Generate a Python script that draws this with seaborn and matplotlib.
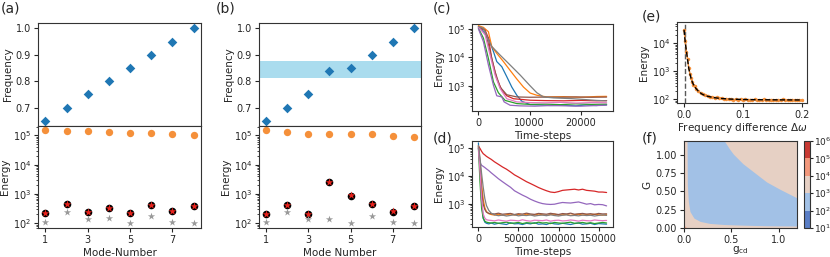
import numpy as np
import pandas as pd
import matplotlib
matplotlib.use('Agg')
import matplotlib.pyplot as plt
import seaborn as sns
from matplotlib.colors import ListedColormap, BoundaryNorm
from matplotlib.cm import ScalarMappable

# ---------------- data ----------------
modes = [1, 2, 3, 4, 5, 6, 7, 8]
mode_ticks = [1, 3, 5, 7]

freq_a = [0.65, 0.70, 0.75, 0.80, 0.85, 0.90, 0.95, 1.00]
freq_b = [0.65, 0.70, 0.75, 0.84, 0.85, 0.90, 0.95, 1.00]
band_b = [0.812, 0.876]

init_a = [1.48e5, 1.45e5, 1.37e5, 1.27e5, 1.20e5, 1.17e5, 1.08e5, 1.03e5]
final_a = [220, 450, 250, 325, 220, 410, 265, 390]
final_a_star = [220, 450, 250, 325, 220, 410, 265, 390]
ref_a = [115, 235, 138, 148, 105, 178, 115, 100]

init_b = [1.48e5, 1.27e5, 1.08e5, 1.08e5, 1.08e5, 1.08e5, 9.5e4, 8.6e4]
final_b = [204, 425, 204, 2550, 870, 440, 235, 400]
final_b_star = [204, 425, 210, 2650, 960, 440, 270, 400]
ref_b = [115, 235, 138, 138, 105, 178, 115, 100]

# (c) relaxation curves, one per mode
c_t = [
    [0, 980, 1950, 2930, 3580, 4560, 5530, 6510, 7490, 8460, 10100, 12000, 14000, 16600, 19000, 21000, 23000, 25000],
    [0, 980, 1950, 2600, 3580, 4880, 6180, 7490, 8790, 10100, 11400, 13350, 16600, 19860, 23100, 25000],
    [0, 980, 1950, 2930, 3900, 5210, 7490, 10000, 13000, 16000, 19000, 22000, 25000],
    [0, 1300, 1950, 2600, 3580, 4560, 5530, 6840, 10100, 13000, 16600, 20000, 23000, 25000],
    [0, 980, 1950, 2930, 3580, 4560, 5010, 6180, 8000, 11000, 14000, 17000, 20000, 23000, 25000],
    [0, 1300, 2280, 3250, 4230, 5530, 7490, 10000, 13000, 16000, 19000, 22000, 25000],
    [0, 1300, 2280, 3250, 4230, 5530, 7490, 10000, 13000, 16000, 19000, 22000, 25000],
    [0, 980, 1950, 2600, 4230, 6180, 8140, 10100, 11400, 12700, 14650, 18550, 21000, 23000, 25000],
]
c_E = [
    [1.12e5, 7.9e4, 4.7e4, 1.6e4, 7.1e3, 4.7e3, 2.1e3, 910, 470, 290, 220, 215, 205, 210, 200, 215, 205, 220],
    [1.29e5, 1.12e5, 7.9e4, 2.4e4, 1.38e4, 7.1e3, 3.5e3, 1.74e3, 910, 560, 470, 410, 420, 400, 425, 430],
    [1.05e5, 4.7e4, 9.1e3, 1.38e3, 575, 310, 240, 225, 230, 220, 235, 225, 230],
    [1.17e5, 9.1e4, 4.7e4, 9.1e3, 1.8e3, 710, 450, 355, 315, 305, 300, 310, 300, 305],
    [1.0e5, 3.5e4, 5.4e3, 1.05e3, 450, 410, 275, 210, 200, 195, 205, 200, 195, 205, 210],
    [1.17e5, 8.5e4, 1.6e4, 3.1e3, 910, 490, 410, 400, 405, 400, 410, 400, 405],
    [1.15e5, 6.2e4, 1.2e4, 2.4e3, 810, 355, 275, 260, 255, 265, 250, 260, 257],
    [1.2e5, 1.05e5, 4.1e4, 2.4e4, 1.2e4, 5.4e3, 2.4e3, 1.0e3, 575, 410, 380, 355, 330, 310, 300],
]

# (d) long relaxation, one curve per mode
d_t = [0, 2000, 4000, 6000, 8000, 10000, 13000, 16000, 20000, 25000, 30000, 35000, 40000,
       45000, 50000, 55000, 60000, 65000, 70000, 75000, 80000, 85000, 90000, 95000, 100000,
       105000, 110000, 115000, 120000, 125000, 130000, 135000, 140000, 145000, 150000,
       155000, 160000]
d_E = [
    [1.5e5, 1.5e4, 1.2e3, 320, 230, 210, 200, 215, 195, 210, 200, 190, 220, 200, 205, 190, 210, 200,
     220, 195, 200, 190, 215, 200, 195, 210, 200, 190, 205, 215, 195, 200, 210, 190, 205, 200, 195],
    [1.2e5, 3.0e4, 5.0e3, 1.5e3, 750, 550, 460, 430, 410, 440, 400, 420, 450, 410, 430, 400, 440, 420,
     410, 450, 420, 400, 430, 445, 410, 420, 435, 400, 425, 440, 410, 430, 415, 440, 420, 405, 425],
    [1.0e5, 6.0e3, 700, 320, 250, 230, 220, 215, 225, 210, 220, 230, 210, 215, 225, 205, 220, 215,
     210, 230, 215, 220, 205, 225, 215, 210, 220, 230, 210, 215, 225, 210, 220, 205, 215, 225, 215],
    [1.15e5, 9.5e4, 7.5e4, 6.2e4, 5.6e4, 5.0e4, 4.4e4, 3.9e4, 3.2e4, 2.6e4, 2.1e4, 1.75e4, 1.4e4,
     1.1e4, 9.2e3, 7.6e3, 6.3e3, 5.4e3, 4.6e3, 3.9e3, 3.4e3, 3.0e3, 2.7e3, 2.6e3, 2.8e3, 3.1e3,
     3.2e3, 3.3e3, 3.4e3, 3.2e3, 3.4e3, 3.1e3, 3.0e3, 2.9e3, 2.7e3, 2.7e3, 2.6e3],
    [1.0e5, 3.0e4, 2.4e4, 2.2e4, 2.0e4, 1.8e4, 1.55e4, 1.3e4, 1.05e4, 8.0e3, 6.3e3, 5.0e3, 4.0e3,
     3.0e3, 2.5e3, 2.1e3, 1.8e3, 1.5e3, 1.3e3, 1.15e3, 1.05e3, 1.0e3, 980, 1.0e3, 1.08e3, 1.15e3,
     1.12e3, 1.1e3, 1.15e3, 1.2e3, 1.1e3, 1.0e3, 1.05e3, 950, 980, 960, 870],
    [1.1e5, 2.5e4, 3.0e3, 1.0e3, 650, 520, 470, 460, 450, 480, 440, 455, 470, 430, 460, 445, 480, 450,
     435, 470, 455, 440, 475, 450, 430, 465, 450, 480, 440, 455, 470, 445, 460, 435, 470, 450, 455],
    [1.0e5, 1.5e4, 1.5e3, 450, 320, 280, 270, 265, 255, 275, 260, 250, 270, 265, 255, 280, 260, 250,
     270, 265, 260, 275, 250, 265, 270, 255, 260, 275, 265, 250, 270, 260, 255, 275, 265, 260, 265],
    [1.2e5, 4.5e4, 1.2e4, 4.0e3, 1.6e3, 900, 600, 480, 420, 390, 410, 380, 400, 420, 385, 405, 395, 415,
     380, 400, 410, 390, 420, 395, 380, 405, 415, 390, 400, 385, 410, 395, 405, 380, 400, 415, 400],
]

# (e) energy vs frequency difference
e_x_data = [0.0, 0.002, 0.004, 0.006, 0.008, 0.010, 0.012, 0.014, 0.016, 0.018, 0.020,
            0.024, 0.028, 0.032, 0.036, 0.040, 0.044, 0.048, 0.052, 0.056, 0.060,
            0.064, 0.068, 0.072, 0.076, 0.080, 0.084, 0.088, 0.092, 0.096, 0.100,
            0.104, 0.108, 0.112, 0.116, 0.120, 0.124, 0.128, 0.132, 0.136, 0.140,
            0.144, 0.148, 0.152, 0.156, 0.160, 0.164, 0.168, 0.172, 0.176, 0.180,
            0.184, 0.188, 0.192, 0.196, 0.200]
e_E_data = [3.0e4, 1.2e4, 5.0e3, 2.7e3, 1.35e3, 820, 560, 430, 330, 290, 245,
            205, 168, 160, 142, 138, 126, 124, 117, 119, 110,
            112, 105, 108, 102, 104, 99, 103, 98, 101, 97,
            100, 95, 99, 96, 101, 95, 98, 94, 100, 96,
            93, 99, 95, 98, 94, 97, 100, 94, 97, 95,
            99, 94, 97, 95, 98]
e_x_fit = [0.0, 0.001, 0.002, 0.003, 0.004, 0.005, 0.006, 0.007, 0.008, 0.010, 0.012, 0.014,
           0.016, 0.018, 0.020, 0.025, 0.030, 0.035, 0.040, 0.050, 0.060, 0.070, 0.080,
           0.100, 0.120, 0.140, 0.160, 0.180, 0.200]
e_E_fit = [3.0e4, 1.75e4, 1.1e4, 7.5e3, 5.2e3, 3.7e3, 2.6e3, 1.8e3, 1.3e3, 800, 560, 420,
           340, 285, 250, 190, 158, 140, 130, 117, 110, 106, 103,
           100, 98.5, 97.5, 97, 96.5, 96]
e_resonance = 0.001

# (f) regions of the (g_cd, G) phase diagram
f_blue_g = [0.032, 0.035, 0.046, 0.063, 0.105, 0.17, 0.27, 0.42, 0.48, 0.52, 0.62, 0.73, 0.84, 0.87, 1.01, 1.2]
f_blue_lo = [1.2, 0.59, 0.36, 0.225, 0.135, 0.09, 0.063, 0.048, 0.045, 0.043, 0.039, 0.035, 0.032, 0.031, 0.029, 0.027]
f_blue_hi = [1.2, 1.2, 1.2, 1.2, 1.2, 1.2, 1.2, 1.2, 1.08, 1.01, 0.88, 0.77, 0.66, 0.63, 0.53, 0.405]
f_orange_g = [0.0, 0.004, 0.008, 0.015, 0.03, 0.06]
f_orange_hi = [0.065, 0.04, 0.025, 0.014, 0.006, 0.0]
cbar_exponents = [1, 2, 3, 4, 5, 6]

# ---------------- style ----------------
sns.set_style('ticks')
plt.rcParams.update({
    'font.family': ['DejaVu Sans'],
    'font.size': 7,
    'axes.labelsize': 7.5,
    'xtick.labelsize': 7,
    'ytick.labelsize': 7,
    'axes.linewidth': 0.8,
    'axes.edgecolor': '0.2',
    'xtick.major.size': 3, 'ytick.major.size': 3,
    'xtick.minor.size': 1.6, 'ytick.minor.size': 1.6,
    'xtick.major.width': 0.8, 'ytick.major.width': 0.8,
    'xtick.minor.width': 0.6, 'ytick.minor.width': 0.6,
    'xtick.major.pad': 2, 'ytick.major.pad': 2,
    'axes.labelpad': 2,
})

C_BLUE = '#1f77b4'
C_ORANGE = '#f5903a'
tab = sns.color_palette('tab10')
cmap_f = ['#5a7ec6', '#a2c1e6', '#e6d0c4', '#f2987c', '#c93a34']

W, H = 830, 257
fig = plt.figure(figsize=(8.3, 2.57), dpi=100)


def px_axes(l, t, r, b):
    return fig.add_axes([l / W, 1 - b / H, (r - l) / W, (b - t) / H])


def mode_panel(left, right, freq, init, fin, fin_star, ref, xlabel, band=None):
    ax_t = px_axes(left, 23, right, 126)
    ax_b = px_axes(left, 126, right, 228)
    if band is not None:
        ax_t.axhspan(band[0], band[1], color='#aadcee', lw=0, zorder=0)
    sns.scatterplot(x=modes, y=freq, marker='D', s=24, color=C_BLUE, linewidth=0, ax=ax_t, zorder=3)
    ax_t.set_ylim(0.631, 1.02)
    ax_t.set_yticks([0.7, 0.8, 0.9, 1.0])
    ax_t.set_ylabel('Frequency')
    ax_t.set_xticks(mode_ticks)
    ax_t.set_xticklabels([])
    ax_t.set_xlim(0.65, 8.35)

    sns.scatterplot(x=modes, y=init, marker='o', s=28, color=C_ORANGE, linewidth=0, ax=ax_b)
    sns.scatterplot(x=modes, y=fin, marker='o', s=30, color='black', linewidth=0, ax=ax_b)
    sns.scatterplot(x=modes, y=fin_star, marker='*', s=34, color='#e8231d', linewidth=0, ax=ax_b)
    sns.scatterplot(x=modes, y=ref, marker='*', s=30, color='#999999', linewidth=0, ax=ax_b)
    ax_b.set_yscale('log')
    ax_b.set_ylim(69, 2.1e5)
    ax_b.set_xlim(0.65, 8.35)
    ax_b.set_xticks(mode_ticks)
    ax_b.set_ylabel('Energy')
    ax_b.set_xlabel(xlabel)
    return ax_t, ax_b


mode_panel(38, 201, freq_a, init_a, final_a, final_a_star, ref_a, 'Mode-Number')
mode_panel(259, 421, freq_b, init_b, final_b, final_b_star, ref_b, 'Mode Number', band=band_b)

names = [f'm{m}' for m in modes]
pal = {n: tab[i] for i, n in enumerate(names)}

# (c)
rows = []
for n, ts, es in zip(names, c_t, c_E):
    rows.append(pd.DataFrame({'t': ts, 'E': es, 'mode': n}))
df_c = pd.concat(rows, ignore_index=True)
ax_c = px_axes(472, 24, 613, 111)
sns.lineplot(data=df_c, x='t', y='E', hue='mode', palette=pal, legend=False, lw=0.9,
             estimator=None, ax=ax_c)
ax_c.set_yscale('log')
ax_c.set_ylim(132, 1.47e5)
ax_c.set_xticks([0, 10000, 20000])
ax_c.set_xlabel('Time-steps')
ax_c.set_ylabel('Energy')

# (d)
rows = []
for n, es in zip(names, d_E):
    rows.append(pd.DataFrame({'t': d_t, 'E': es, 'mode': n}))
df_d = pd.concat(rows, ignore_index=True)
ax_d = px_axes(472, 141, 613, 227)
sns.lineplot(data=df_d, x='t', y='E', hue='mode', palette=pal, legend=False, lw=0.9,
             estimator=None, ax=ax_d)
ax_d.set_yscale('log')
ax_d.set_ylim(155, 1.75e5)
ax_d.set_xticks([0, 50000, 100000, 150000])
ax_d.set_xlabel('Time-steps')
ax_d.set_ylabel('Energy')

# (e)
ax_e = px_axes(677, 22, 807, 103)
ax_e.axvline(e_resonance, color='0.35', ls='--', lw=1.0)
sns.lineplot(x=e_x_data, y=e_E_data, color=C_ORANGE, lw=1.0, marker='o', markersize=2.5,
             markeredgewidth=0, ax=ax_e)
sns.lineplot(x=e_x_fit, y=e_E_fit, color='black', lw=1.0, linestyle='--', ax=ax_e)
ax_e.set_yscale('log')
ax_e.set_ylim(75, 5.7e4)
ax_e.set_xlim(-0.012, 0.209)
ax_e.set_xticks([0.0, 0.1, 0.2])
ax_e.set_xlabel(r'Frequency difference $\Delta\omega$', labelpad=1)
ax_e.set_ylabel('Energy')

# (f)
ax_f = px_axes(684, 141, 797, 228)
ax_f.set_facecolor(cmap_f[2])
ax_f.fill_between(f_blue_g, f_blue_lo, f_blue_hi, color=cmap_f[1], lw=0)
ax_f.fill_between(f_orange_g, 0, f_orange_hi, color=cmap_f[3], lw=0)
ax_f.set_xlim(0, 1.19)
ax_f.set_ylim(0, 1.19)
ax_f.set_xticks([0.0, 0.5, 1.0])
ax_f.set_yticks([0.0, 0.25, 0.5, 0.75, 1.0])
ax_f.set_yticklabels(['0.00', '0.25', '0.50', '0.75', '1.00'])
ax_f.set_xlabel(r'g$_\mathregular{cd}$', labelpad=-1)
ax_f.set_ylabel('G')

cax = px_axes(804, 141, 810, 228)
sm = ScalarMappable(norm=BoundaryNorm(cbar_exponents, len(cbar_exponents) - 1),
                    cmap=ListedColormap(cmap_f))
cb = fig.colorbar(sm, cax=cax)
cb.set_ticks(cbar_exponents)
cb.set_ticklabels([f'$10^{{{k}}}$' for k in cbar_exponents])
cb.ax.tick_params(labelsize=6.5, size=2, pad=1)
cb.outline.set_linewidth(0.8)

# panel labels
for lab, x, y in [('(a)', 1, 8), ('(b)', 216, 8), ('(c)', 433, 8),
                  ('(d)', 433, 138), ('(e)', 642, 17), ('(f)', 642, 138)]:
    fig.text(x / W, 1 - y / H, lab, fontsize=10, ha='left', va='center')

fig.savefig('out.png', dpi=100)
